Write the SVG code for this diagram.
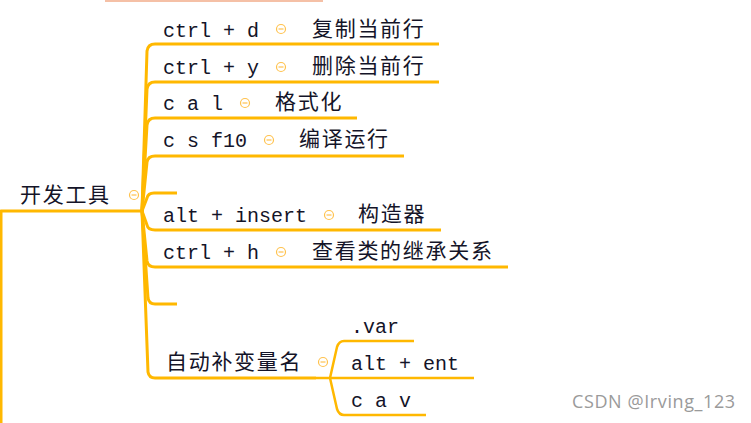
<svg xmlns="http://www.w3.org/2000/svg" width="751" height="423" viewBox="0 0 751 423">
<style>
.ln{fill:none;stroke:#FFB800;stroke-width:3;stroke-linejoin:round;stroke-linecap:butt}
.sub{fill:none;stroke:#FFB800;stroke-width:2.5;stroke-linejoin:round}
.m{font-family:"Liberation Mono",monospace;font-size:20px;fill:#141428}
.c{font-family:"Noto Sans CJK SC","Noto Sans",sans-serif;font-size:21px;fill:#141428;letter-spacing:1.7px}
.tg circle{fill:#fff;stroke:#FFC24D;stroke-width:1.2}
.tg line{stroke:#FFC24D;stroke-width:1.2}
.wm{font-family:"Open Sans","Noto Sans",sans-serif;font-size:18px;letter-spacing:0.6px;fill:#9a9a9a}
</style>
<defs>
<g id="tog" class="tg"><circle cx="0" cy="0" r="4.5"/><line x1="-2.5" y1="0" x2="2.5" y2="0"/></g>
</defs>
<rect x="105" y="0" width="218" height="2" fill="#F5C0A6"/>
<g id="connectors">
<path class="ln" d="M1,423 L1,211 L142,211"/>
<path class="ln" d="M142,211 L147,51 Q148,44 155,44 L439,44"/>
<path class="ln" d="M142,211 L147,89 Q148,82 155,82 L439,82"/>
<path class="ln" d="M142,211 L147,125 Q148,118 155,118 L357,118"/>
<path class="ln" d="M142,211 L147,162 Q148,156 155,156 L404,156"/>
<path class="ln" d="M142,211 L147,198 Q148,193 154,193 L177,193"/>
<path class="ln" d="M142,211 L147,225 Q148,230 155,230 L441,230"/>
<path class="ln" d="M142,211 L147,261 Q148,267 155,267 L508,267"/>
<path class="ln" d="M142,211 L148,298 Q149,304 155,304 L177,304"/>
<path class="ln" d="M142,211 L148,372 Q149,378 155,378 L316,378"/>
<path class="sub" d="M316,378 L330,378"/>
<path class="sub" d="M330,378 L337,347 Q339,341 344,341 L414,341"/>
<path class="sub" d="M330,378 L474,378"/>
<path class="sub" d="M330,378 L337,409 Q339,415 344,415 L426,415"/>
</g>
<g id="root"><text class="c" x="20" y="202">开发工具</text><use href="#tog" x="134" y="195"/></g>
<g id="n1"><text class="m" x="163" y="37">ctrl + d</text><use href="#tog" x="281" y="29"/><text class="c" x="312" y="36">复制当前行</text></g>
<g id="n2"><text class="m" x="163" y="74">ctrl + y</text><use href="#tog" x="281" y="67"/><text class="c" x="312" y="73">删除当前行</text></g>
<g id="n3"><text class="m" x="163" y="110">c a l</text><use href="#tog" x="245" y="103"/><text class="c" x="275" y="109">格式化</text></g>
<g id="n4"><text class="m" x="163" y="147">c s f10</text><use href="#tog" x="269" y="140"/><text class="c" x="299" y="146">编译运行</text></g>
<g id="n5"><text class="m" x="163" y="222">alt + insert</text><use href="#tog" x="329" y="215"/><text class="c" x="358" y="221">构造器</text></g>
<g id="n6"><text class="m" x="163" y="259">ctrl + h</text><use href="#tog" x="281" y="252"/><text class="c" x="312" y="258">查看类的继承关系</text></g>
<g id="n7"><text class="c" x="166" y="369">自动补变量名</text><use href="#tog" x="323" y="362"/></g>
<g id="n8"><text class="m" x="351" y="333">.var</text></g>
<g id="n9"><text class="m" x="351" y="370">alt + ent</text></g>
<g id="n10"><text class="m" x="351" y="407">c a v</text></g>
<text class="wm" x="572" y="408">CSDN @Irving_123</text>
</svg>
